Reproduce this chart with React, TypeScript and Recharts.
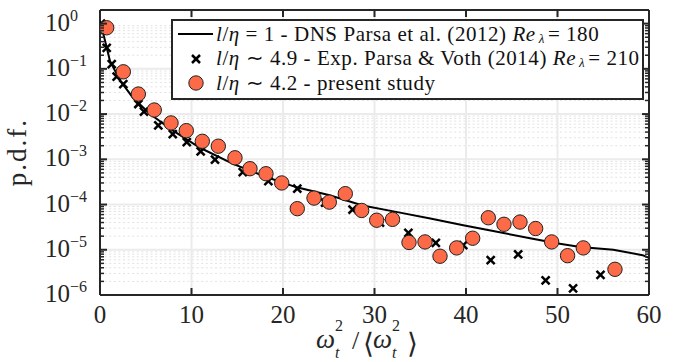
import { ScatterChart, Scatter, XAxis, YAxis, ReferenceLine } from 'recharts';

// DNS curve (Parsa et al. 2012)
const dnsX = [0, 0.55, 1.09, 2.19, 3.6, 5.46, 7.98, 10.93, 14.54, 18.25, 21.5, 25.1, 28.7, 32.5, 36.1, 39.7, 43.4, 47.0, 49.9, 52.5, 56.1, 59.3, 60];
const dnsY = [1.14, 0.42, 0.15, 0.055, 0.023, 0.01, 0.0043, 0.0018, 7.9e-4, 4.0e-4, 2.4e-4, 1.6e-4, 9.5e-5, 6.8e-5, 4.9e-5, 3.5e-5, 2.5e-5, 1.8e-5, 1.4e-5, 1.15e-5, 1.0e-5, 7.6e-6, 6.6e-6];

// Exp. Parsa & Voth (2014)
const expX = [0.11, 0.73, 1.28, 1.82, 2.55, 4.19, 4.81, 6.37, 7.95, 9.48, 11.0, 12.57, 15.6, 18.4, 21.56, 24.6, 27.6, 30.6, 33.7, 36.7, 39.7, 42.7, 45.7, 48.7, 51.7, 54.7];
const expY = [1.0, 0.29, 0.127, 0.067, 0.046, 0.0167, 0.0113, 0.0056, 0.0036, 0.0024, 0.0015, 9.8e-4, 5.2e-4, 3.3e-4, 2.24e-4, 1.1e-4, 7.7e-5, 4.0e-5, 2.36e-5, 1.42e-5, 1.26e-5, 5.9e-6, 7.9e-6, 2.1e-6, 1.4e-6, 2.8e-6];

// present study
const presX = [0.73, 2.55, 4.19, 5.93, 7.76, 9.43, 11.18, 12.93, 14.75, 16.39, 18.14, 19.86, 21.56, 23.39, 25.06, 26.81, 28.6, 30.24, 31.97, 33.77, 35.52, 37.16, 38.98, 40.73, 42.44, 44.15, 45.9, 47.61, 49.36, 51.1, 52.82, 56.28];
const presY = [0.81, 0.086, 0.0277, 0.0123, 0.00637, 0.0043, 0.0025, 0.00195, 0.00108, 6.2e-4, 4.8e-4, 3.0e-4, 8.1e-5, 1.39e-4, 1.13e-4, 1.74e-4, 7.4e-5, 4.5e-5, 4.7e-5, 1.45e-5, 1.49e-5, 7.2e-6, 1.1e-5, 1.8e-5, 5.1e-5, 3.66e-5, 4.1e-5, 2.95e-5, 1.49e-5, 7.4e-6, 1.1e-5, 3.7e-6];

const xTicks = [0, 10, 20, 30, 40, 50, 60];
const yMajor = [1e-6, 1e-5, 1e-4, 1e-3, 1e-2, 1e-1, 1];
const yExp = ['\u22126', '\u22125', '\u22124', '\u22123', '\u22122', '\u22121', '0'];
const yMinor: number[] = [];
yMajor.slice(0, 6).forEach((d) => {
    for (let m = 2; m <= 9; m++) yMinor.push(m * d);
});
const yAll = [...yMajor, ...yMinor];

const zip = (xs: number[], ys: number[]) => xs.map((x, i) => ({ x, y: ys[i] }));
const dnsData = zip(dnsX, dnsY);
const expData = zip(expX, expY);
const presData = zip(presX, presY);

// layout
const W = 676;
const H = 362;
const PL = 100;
const PR = 649;
const PT = 10;
const PB = 295;
const AX = '#262626';
const ORANGE = '#fd6a47';
const FONT = 'Liberation Serif, Times New Roman, serif';

const majorIndex = (v: number) => yMajor.findIndex((m) => Math.abs(m - v) / m < 1e-6);

function LeftTick(props: any) {
    const { y, payload } = props;
    const idx = majorIndex(payload.value);
    const major = idx >= 0;
    return (
        <g>
            <line x1={PL} x2={PL + (major ? 7 : 4)} y1={y} y2={y} stroke={AX} strokeWidth={major ? 2 : 1.5} />
            {major && (
                <text x={45} y={y + 7} fontFamily={FONT} fontSize={25} fill={AX}>
                    10
                    <tspan dy={-10} fontSize={16}>{yExp[idx]}</tspan>
                </text>
            )}
        </g>
    );
}

function RightTick(props: any) {
    const { y, payload } = props;
    const major = majorIndex(payload.value) >= 0;
    return <line x1={PR} x2={PR - (major ? 7 : 4)} y1={y} y2={y} stroke={AX} strokeWidth={major ? 2 : 1.5} />;
}

function BottomTick(props: any) {
    const { x, payload } = props;
    return (
        <g>
            <line x1={x} x2={x} y1={PB} y2={PB - 7} stroke={AX} strokeWidth={2} />
            <text x={x} y={PB + 28} textAnchor="middle" fontFamily={FONT} fontSize={25} fill={AX}>
                {payload.value}
            </text>
        </g>
    );
}

function TopTick(props: any) {
    const { x, payload } = props;
    if (payload.value === 0 || payload.value === 60) return <g />;
    return <line x1={x} x2={x} y1={PT} y2={PT + 7} stroke={AX} strokeWidth={2} />;
}

function Cross(props: any) {
    const { cx, cy } = props;
    const s = 4;
    return (
        <g stroke="#000" strokeWidth={2.5}>
            <line x1={cx - s} y1={cy - s} x2={cx + s} y2={cy + s} />
            <line x1={cx - s} y1={cy + s} x2={cx + s} y2={cy - s} />
        </g>
    );
}

function Dot(props: any) {
    const { cx, cy } = props;
    return <circle cx={cx} cy={cy} r={7.2} fill={ORANGE} stroke="#222" strokeWidth={1} />;
}

const Empty = () => <g />;

function LegendRow({ marker, children }: { marker: 'line' | 'cross' | 'dot'; children: any }) {
    return (
        <div style={{ display: 'flex', alignItems: 'center', height: 24.5 }}>
            <svg width={43} height={24} style={{ flex: 'none' }}>
                {marker === 'line' && <line x1={5} x2={40} y1={12} y2={12} stroke="#000" strokeWidth={2} />}
                {marker === 'cross' && <Cross cx={23} cy={12} />}
                {marker === 'dot' && <Dot cx={23} cy={12} />}
            </svg>
            <span style={{ whiteSpace: 'nowrap', letterSpacing: 0.55, lineHeight: 1 }}>{children}</span>
        </div>
    );
}

const sub = {
    fontSize: 13,
    marginLeft: 3,
    marginRight: 3,
    verticalAlign: 'baseline',
    position: 'relative' as const,
    top: 2,
    lineHeight: 1,
};

export default function App() {
    return (
        <div style={{ position: 'relative', width: W, height: H, background: '#fff' }}>
            <style>{'body{margin:0}'}</style>
            <ScatterChart width={W} height={H} margin={{ top: 9, right: 26, bottom: 0, left: 0 }}>
                <XAxis
                    xAxisId="b"
                    type="number"
                    dataKey="x"
                    domain={[0, 60]}
                    ticks={xTicks}
                    interval={0}
                    height={67}
                    allowDataOverflow
                    tickLine={false}
                    axisLine={{ stroke: AX, strokeWidth: 2 }}
                    tick={<BottomTick />}
                />
                <XAxis
                    xAxisId="t"
                    orientation="top"
                    type="number"
                    dataKey="x"
                    domain={[0, 60]}
                    ticks={xTicks}
                    interval={0}
                    height={1}
                    allowDataOverflow
                    tickLine={false}
                    axisLine={{ stroke: AX, strokeWidth: 2 }}
                    tick={<TopTick />}
                />
                <YAxis
                    yAxisId="l"
                    type="number"
                    dataKey="y"
                    scale="log"
                    domain={[1e-6, 2]}
                    ticks={yAll}
                    interval={0}
                    width={100}
                    allowDataOverflow
                    tickLine={false}
                    axisLine={{ stroke: AX, strokeWidth: 2 }}
                    tick={<LeftTick />}
                />
                <YAxis
                    yAxisId="r"
                    orientation="right"
                    type="number"
                    dataKey="y"
                    scale="log"
                    domain={[1e-6, 2]}
                    ticks={yAll}
                    interval={0}
                    width={1}
                    allowDataOverflow
                    tickLine={false}
                    axisLine={{ stroke: AX, strokeWidth: 2 }}
                    tick={<RightTick />}
                />
                {yMinor.map((v) => (
                    <ReferenceLine key={'m' + v} xAxisId="b" yAxisId="l" y={v} stroke="#e2e2e2" strokeWidth={1} strokeDasharray="2 2.6" zIndex={-50} />
                ))}
                {yMajor.slice(1, 6).map((v) => (
                    <ReferenceLine key={'M' + v} xAxisId="b" yAxisId="l" y={v} stroke="#ebebeb" strokeWidth={2} zIndex={-50} />
                ))}
                {xTicks.slice(1, 6).map((v) => (
                    <ReferenceLine key={'X' + v} xAxisId="b" yAxisId="l" x={v} stroke="#ebebeb" strokeWidth={2} zIndex={-50} />
                ))}
                <Scatter
                    xAxisId="b"
                    yAxisId="l"
                    data={dnsData}
                    line={{ stroke: '#000', strokeWidth: 2 }}
                    shape={<Empty />}
                    isAnimationActive={false}
                />
                <Scatter xAxisId="b" yAxisId="l" data={expData} shape={<Cross />} isAnimationActive={false} />
                <Scatter xAxisId="b" yAxisId="l" data={presData} shape={<Dot />} isAnimationActive={false} />
            </ScatterChart>

            <svg width={W} height={H} style={{ position: 'absolute', left: 0, top: 0, pointerEvents: 'none' }}>
                <text
                    transform="translate(26,152) rotate(-90)"
                    textAnchor="middle"
                    fontFamily={FONT}
                    fontSize={27}
                    letterSpacing={2}
                    fill={AX}
                >
                    p.d.f.
                </text>
                <g fontFamily={FONT} fill={AX}>
                    <text x={316} y={348} fontSize={27} fontStyle="italic">ω</text>
                    <text x={335} y={331} fontSize={16}>2</text>
                    <text x={335} y={358} fontSize={16} fontStyle="italic">t</text>
                    <text x={352} y={349} fontSize={26}>/</text>
                    <text x={363} y={353} fontSize={28}>⟨</text>
                    <text x={373} y={348} fontSize={27} fontStyle="italic">ω</text>
                    <text x={392} y={331} fontSize={16}>2</text>
                    <text x={392} y={358} fontSize={16} fontStyle="italic">t</text>
                    <text x={407} y={353} fontSize={28}>⟩</text>
                </g>
            </svg>

            <div
                style={{
                    position: 'absolute',
                    left: 171,
                    top: 19,
                    width: 469,
                    height: 76,
                    border: `2px solid ${AX}`,
                    background: '#fff',
                    fontFamily: FONT,
                    fontSize: 21,
                    color: '#111',
                    paddingTop: 1,
                    boxSizing: 'content-box',
                }}
            >
                <LegendRow marker="line">
                    <i>l</i>/<i>η</i> = 1 - DNS Parsa et al. (2012) <i>Re</i>
                    <span style={sub}><i>λ</i></span>= 180
                </LegendRow>
                <LegendRow marker="cross">
                    <i>l</i>/<i>η</i> ∼ 4.9 - Exp. Parsa &amp; Voth (2014) <i>Re</i>
                    <span style={sub}><i>λ</i></span>= 210
                </LegendRow>
                <LegendRow marker="dot">
                    <i>l</i>/<i>η</i> ∼ 4.2 - present study
                </LegendRow>
            </div>
        </div>
    );
}
